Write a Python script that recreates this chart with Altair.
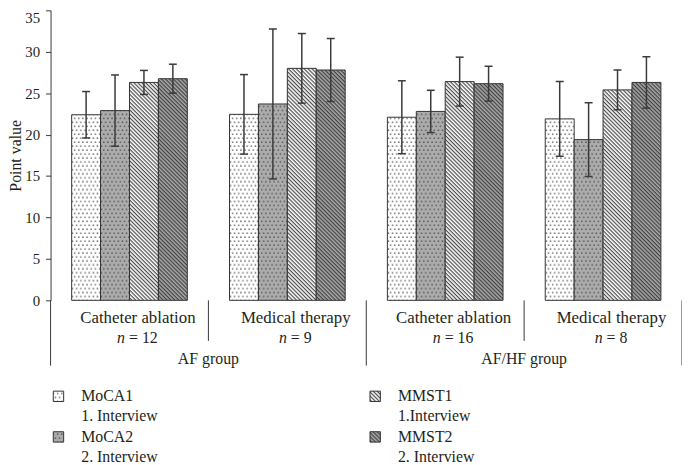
import altair as alt
import pandas as pd
import jinja2

# ---------------- data ----------------
groups = ["AF group", "AF group", "AF/HF group", "AF/HF group"]
treatments = ["Catheter ablation", "Medical therapy", "Catheter ablation", "Medical therapy"]
n_sizes = [12, 9, 16, 8]
measures = ["MoCA1", "MoCA2", "MMST1", "MMST2"]
interview_labels = ["1. Interview", "2. Interview", "1.Interview", "2. Interview"]

moca1_mean = [22.4, 22.45, 22.1, 21.9]
moca1_sd = [2.8, 4.8, 4.4, 4.5]
moca2_mean = [22.9, 23.7, 22.8, 19.4]
moca2_sd = [4.3, 9.05, 2.55, 4.45]
mmst1_mean = [26.3, 28.0, 26.4, 25.4]
mmst1_sd = [1.45, 4.2, 2.95, 2.4]
mmst2_mean = [26.75, 27.8, 26.15, 26.3]
mmst2_sd = [1.75, 3.8, 2.1, 3.1]

y_ticks = [0, 5, 10, 15, 20, 25, 30, 35]

# ---------------- tables ----------------
cells = [g + "|" + t for g, t in zip(groups, treatments)]
means = {"MoCA1": moca1_mean, "MoCA2": moca2_mean, "MMST1": mmst1_mean, "MMST2": mmst2_mean}
sds = {"MoCA1": moca1_sd, "MoCA2": moca2_sd, "MMST1": mmst1_sd, "MMST2": mmst2_sd}
rows = []
for m in measures:
    for i, c in enumerate(cells):
        rows.append({"cell": c, "measure": m, "mean": means[m][i], "sd": sds[m][i]})
bars_df = pd.DataFrame(rows)

cells_df = pd.DataFrame({"cell": cells, "treatment": treatments,
                         "n_text": ["= " + str(n) for n in n_sizes],
                         "ndig": [len(str(n)) for n in n_sizes]})
group_df = pd.DataFrame({"cell": [cells[1], cells[3]], "group": [groups[0], groups[2]]})
long_sep_df = pd.DataFrame({"cell": [cells[0], cells[2]]})
end_sep_df = pd.DataFrame({"cell": [cells[3]]})
short_sep_df = pd.DataFrame({"cell": [cells[1], cells[3]]})

# ---------------- style ----------------
W, H = 638, 293
FONT = "Liberation Serif"
TXT = "#231f20"
LINE = "#3a3a3a"
pattern_ids = {"MoCA1": "url(#pMoCA1)", "MoCA2": "url(#pMoCA2)",
               "MMST1": "url(#pMMST1)", "MMST2": "url(#pMMST2)"}

label_expr = ("[datum.label, " + " : ".join(
    ["datum.label == '%s' ? '%s'" % (m, l) for m, l in zip(measures, interview_labels)]
) + " : '']")

x_enc = alt.X("cell:N", scale=alt.Scale(domain=cells, paddingInner=0, paddingOuter=0),
              axis=alt.Axis(labels=False, ticks=False, title=None, grid=False,
                            domainColor=LINE, domainWidth=1))
x_plain = alt.X("cell:N", axis=None)
xo_enc = alt.XOffset("measure:N", scale=alt.Scale(domain=measures, paddingInner=0, paddingOuter=0.73))

y_enc = alt.Y("mean:Q", scale=alt.Scale(domain=[0, 35], nice=False),
              axis=alt.Axis(values=y_ticks, title="Point value", grid=False, tickSize=5,
                            labelPadding=6, domainColor=LINE, tickColor=LINE,
                            labelFont=FONT, labelFontSize=15, labelColor=TXT,
                            labelBaseline={"condition": {"test": "datum.value == 35", "value": "top"},
                                           "value": "middle"},
                            titleFont=FONT, titleFontSize=16, titleFontWeight="normal",
                            titleColor=TXT, titlePadding=1))

base = alt.Chart(bars_df)

bars = base.mark_bar(stroke="#333333", strokeWidth=1).encode(
    x=x_enc, xOffset=xo_enc, y=y_enc,
    fill=alt.Fill("measure:N",
                  scale=alt.Scale(domain=measures, range=[pattern_ids[m] for m in measures]),
                  legend=alt.Legend(title=None, orient="none", legendX=0, legendY=382,
                                    columns=2, columnPadding=211, rowPadding=5, padding=0,
                                    symbolType="square", symbolSize=110,
                                    symbolStrokeColor="#333333", symbolStrokeWidth=1,
                                    labelFont=FONT, labelFontSize=16, labelColor=TXT,
                                    labelOffset=15, labelLimit=300, labelExpr=label_expr)),
)

err = base.transform_calculate(lo="datum.mean - datum.sd", hi="datum.mean + datum.sd")
err_rule = err.mark_rule(color=LINE, strokeWidth=1.5).encode(
    x=x_plain, xOffset="measure:N", y="lo:Q", y2="hi:Q")
cap_hi = err.mark_tick(color=LINE, thickness=1.5, size=8, orient="horizontal", opacity=1).encode(
    x=x_plain, xOffset="measure:N", y="hi:Q")
cap_lo = err.mark_tick(color=LINE, thickness=1.5, size=8, orient="horizontal", opacity=1).encode(
    x=x_plain, xOffset="measure:N", y="lo:Q")

long_sep = alt.Chart(long_sep_df).mark_rule(color=LINE, strokeWidth=1).encode(
    x=alt.X("cell:N", axis=None, bandPosition=0), y=alt.value(H), y2=alt.value(H + 66))
end_sep = alt.Chart(end_sep_df).mark_rule(color=LINE, strokeWidth=1).encode(
    x=alt.X("cell:N", axis=None, bandPosition=1), y=alt.value(H), y2=alt.value(H + 66))
short_sep = alt.Chart(short_sep_df).mark_rule(color=LINE, strokeWidth=1).encode(
    x=alt.X("cell:N", axis=None, bandPosition=0), y=alt.value(H), y2=alt.value(H + 41))

txt = dict(font=FONT, fontSize=16, color=TXT)
treat_text = alt.Chart(cells_df).mark_text(dx=8.5, baseline="middle", font=FONT, fontSize=17, color=TXT).encode(
    x=x_plain, y=alt.value(H + 18), text="treatment:N")
n_two = alt.Chart(cells_df).transform_filter("datum.ndig == 2")
n_one = alt.Chart(cells_df).transform_filter("datum.ndig == 1")
n_italic2 = n_two.mark_text(dx=-4.5, align="right", fontStyle="italic", **txt).encode(
    x=x_plain, y=alt.value(H + 38), text=alt.value("n"))
n_rest2 = n_two.mark_text(dx=-0.5, align="left", **txt).encode(
    x=x_plain, y=alt.value(H + 38), text="n_text:N")
n_italic1 = n_one.mark_text(dx=-0.5, align="right", fontStyle="italic", **txt).encode(
    x=x_plain, y=alt.value(H + 38), text=alt.value("n"))
n_rest1 = n_one.mark_text(dx=3.5, align="left", **txt).encode(
    x=x_plain, y=alt.value(H + 38), text="n_text:N")
group_text = alt.Chart(group_df).mark_text(**txt).encode(
    x=alt.X("cell:N", axis=None, bandPosition=0), y=alt.value(H + 59), text="group:N")

chart = alt.layer(
    bars, err_rule, cap_hi, cap_lo, long_sep, end_sep, short_sep,
    treat_text, n_italic2, n_rest2, n_italic1, n_rest1, group_text
).properties(
    width=W, height=H,
    autosize=alt.AutoSizeParams(type="none"),
    padding={"left": 43, "top": 0, "right": 0, "bottom": 164},
    background="white",
).configure(style={"guide-label": {"lineHeight": 20}}).configure_view(stroke=None)

PATTERNS = """
<svg width="0" height="0" style="position:absolute;left:0;top:0" aria-hidden="true">
 <defs>
  <pattern id="pMoCA1" patternUnits="userSpaceOnUse" width="4.2" height="8">
    <rect width="4.2" height="8" fill="#ffffff"/>
    <rect x="0.5" y="0.5" width="1.4" height="1.4" fill="#5a5a5a"/>
    <rect x="2.6" y="4.5" width="1.4" height="1.4" fill="#5a5a5a"/>
  </pattern>
  <pattern id="pMoCA2" patternUnits="userSpaceOnUse" width="4.2" height="8">
    <rect width="4.2" height="8" fill="#acacac"/>
    <rect x="0.5" y="0.5" width="1.4" height="1.4" fill="#4a4a4a"/>
    <rect x="2.6" y="4.5" width="1.4" height="1.4" fill="#4a4a4a"/>
  </pattern>
  <pattern id="pMMST1" patternUnits="userSpaceOnUse" width="2.8" height="2.8" patternTransform="rotate(45)">
    <rect width="2.8" height="2.8" fill="#ffffff"/>
    <rect width="2.8" height="1.2" fill="#4a4a4a"/>
  </pattern>
  <pattern id="pMMST2" patternUnits="userSpaceOnUse" width="2.8" height="2.8" patternTransform="rotate(45)">
    <rect width="2.8" height="2.8" fill="#a8a8a8"/>
    <rect width="2.8" height="1.2" fill="#404040"/>
  </pattern>
 </defs>
</svg>
"""

TEMPLATE = jinja2.Template("""<!DOCTYPE html>
<html>
<head>
  <style>
    #{{ output_div }}.vega-embed { width: 100%; display: flex; }
    #{{ output_div }}.vega-embed details,
    #{{ output_div }}.vega-embed details summary { position: relative; }
  </style>
  <script type="text/javascript" src="{{ base_url }}/vega@{{ vega_version }}"></script>
  <script type="text/javascript" src="{{ base_url }}/vega-lite@{{ vegalite_version }}"></script>
  <script type="text/javascript" src="{{ base_url }}/vega-embed@{{ vegaembed_version }}"></script>
</head>
<body>
""" + PATTERNS + """
  <div id="{{ output_div }}"></div>
  <script>
    (function(vegaEmbed) {
      var spec = {{ spec }};
      var embedOpt = {{ embed_options }};
      function showError(el, error){
        el.innerHTML = '<div style="color:red;"><p>JavaScript Error: ' + error.message + '</p></div>';
        throw error;
      }
      const el = document.getElementById('{{ output_div }}');
      vegaEmbed("#{{ output_div }}", spec, embedOpt).catch(error => showError(el, error));
    })(vegaEmbed);
  </script>
</body>
</html>
""")

chart.save("out.html", embed_options={"renderer": "svg", "actions": False}, template=TEMPLATE)
